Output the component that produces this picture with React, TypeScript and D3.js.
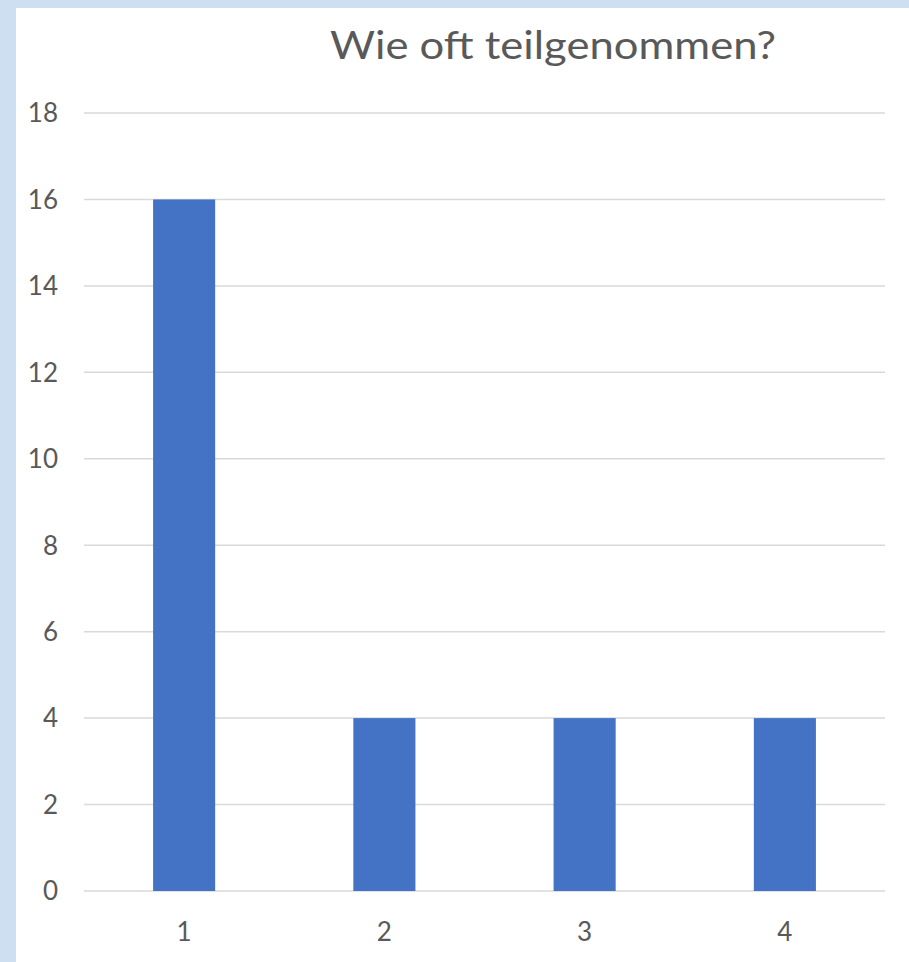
import { useEffect, useRef } from 'react';
import * as d3 from 'd3';

const categories = ['1', '2', '3', '4'];
const counts = [16, 4, 4, 4];
const yTicks = [0, 2, 4, 6, 8, 10, 12, 14, 16, 18];
const title = 'Wie oft teilgenommen?';

export default function App() {
  const svgRef = useRef<SVGSVGElement>(null);

  useEffect(() => {
    if (!svgRef.current) return;
    document.body.style.margin = '0';
    const svg = d3.select(svgRef.current);
    svg.selectAll('*').remove();

    const width = 909;
    const height = 962;
    const plot = { left: 84, right: 885, top: 113, bottom: 891 };
    const font = 'Lato, "Open Sans", sans-serif';

    // outer light-blue frame + white chart panel
    svg.append('rect').attr('width', width).attr('height', height).attr('fill', '#cddff0');
    svg.append('rect')
      .attr('x', 16)
      .attr('y', 8)
      .attr('width', width - 16)
      .attr('height', height - 8)
      .attr('fill', '#ffffff');

    const x = d3
      .scaleBand<string>()
      .domain(categories)
      .range([plot.left, plot.right])
      .paddingInner(0.69)
      .paddingOuter(0.345);

    const y = d3.scaleLinear().domain([0, 18]).range([plot.bottom, plot.top]);

    // grid lines
    svg.selectAll('.grid')
      .data(yTicks)
      .enter()
      .append('line')
      .attr('x1', plot.left)
      .attr('x2', plot.right)
      .attr('y1', (d) => y(d))
      .attr('y2', (d) => y(d))
      .attr('stroke', '#d9d9d9')
      .attr('stroke-width', 1.5);

    // y tick labels
    svg.selectAll('.ylab')
      .data(yTicks)
      .enter()
      .append('text')
      .attr('x', 58)
      .attr('y', (d) => y(d))
      .attr('dy', '0.36em')
      .attr('text-anchor', 'end')
      .attr('fill', '#595959')
      .attr('font-family', font)
      .attr('font-size', '26px')
      .text((d) => String(d));

    // bars
    svg.selectAll('.bar')
      .data(categories)
      .enter()
      .append('rect')
      .attr('x', (d) => x(d) ?? 0)
      .attr('y', (d, i) => y(counts[i]))
      .attr('width', x.bandwidth())
      .attr('height', (d, i) => plot.bottom - y(counts[i]))
      .attr('fill', '#4472c4');

    // x tick labels
    svg.selectAll('.xlab')
      .data(categories)
      .enter()
      .append('text')
      .attr('x', (d) => (x(d) ?? 0) + x.bandwidth() / 2)
      .attr('y', 941)
      .attr('text-anchor', 'middle')
      .attr('fill', '#595959')
      .attr('font-family', font)
      .attr('font-size', '26px')
      .text((d) => d);

    // title
    svg.append('text')
      .attr('x', 553)
      .attr('y', 59)
      .attr('text-anchor', 'middle')
      .attr('fill', '#595959')
      .attr('font-family', font)
      .attr('font-size', '39px')
      .attr('textLength', 446)
      .attr('lengthAdjust', 'spacingAndGlyphs')
      .text(title);
  }, []);

  return (
    <svg
      ref={svgRef}
      width={909}
      height={962}
      style={{ position: 'absolute', left: 0, top: 0, display: 'block' }}
    />
  );
}
